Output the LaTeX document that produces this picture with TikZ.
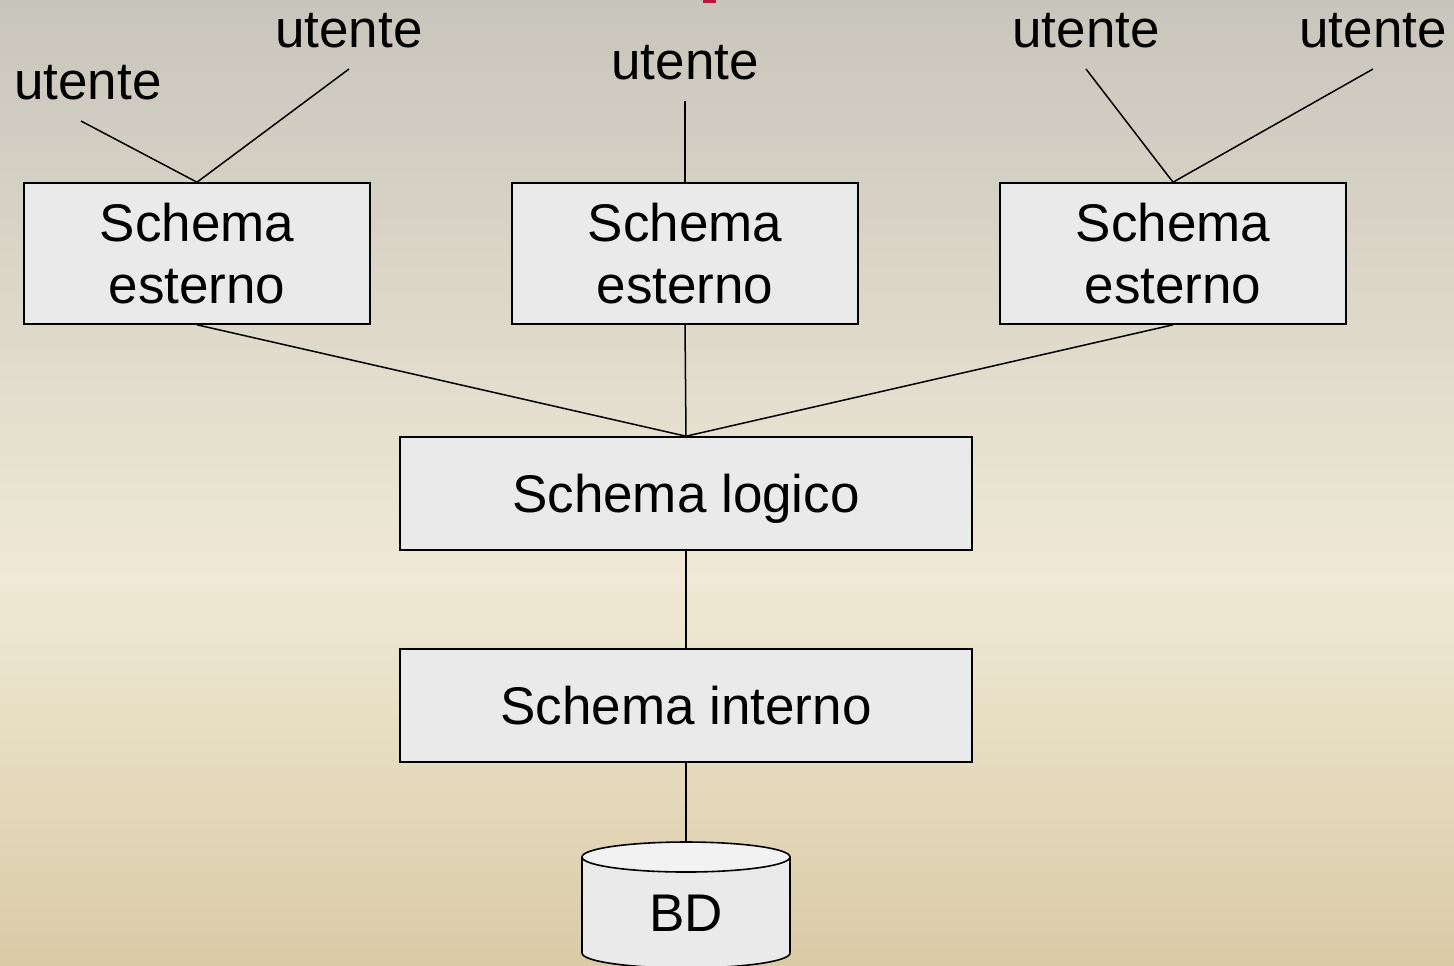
\documentclass[tikz,border=0pt]{standalone}
\usepackage{fontspec}
\setmainfont{Liberation Sans}
\usetikzlibrary{positioning}

\definecolor{bgtop}{HTML}{C8C5BC}
\definecolor{bgmid}{HTML}{EFE9D5}
\definecolor{bgbot}{HTML}{DACBA6}
\definecolor{boxgrey}{HTML}{EAEAEA}
\definecolor{boxlight}{HTML}{F2F2F2}
\definecolor{titlered}{HTML}{C0143C}

\pgfdeclareverticalshading{bgshade}{100bp}{color(0bp)=(bgbot); color(25bp)=(bgbot);
  color(45bp)=(bgmid); color(75bp)=(bgtop); color(100bp)=(bgtop)}

\tikzset{
  schemabox/.style={draw, line width=0.8pt, fill=boxgrey, align=center,
    font=\fontsize{26.5}{31}\selectfont, inner sep=0pt},
  userlabel/.style={font=\fontsize{26.5}{31}\selectfont, inner xsep=0pt,
    inner ysep=10pt, anchor=south},
}

\begin{document}
\begin{tikzpicture}[x=0.5pt,y=-0.5pt,line width=0.75pt]

        \useasboundingbox (0,0) rectangle (1454,965);
        \shade[shading=bgshade] (0,0) rectangle (1454,965);
        \clip (0,0) rectangle (1454,965);
        \fill[titlered] (703,-2) rectangle (716,3);

        \begin{scope}[every node/.style={userlabel}]
          \node (u1) at (88,121)  {utente};
          \node (u2) at (349,69)  {utente};
          \node (u3) at (685,101) {utente};
          \node (u4) at (1086,69) {utente};
          \node (u5) at (1373,69) {utente};
        \end{scope}

        \begin{scope}[every node/.style={schemabox,minimum width=173pt,minimum height=70.5pt}]
          \node (e1) at (197,253.5)  {Schema\\esterno};
          \node (e2) at (685,253.5)  {Schema\\esterno};
          \node (e3) at (1173,253.5) {Schema\\esterno};
        \end{scope}

        \begin{scope}[every node/.style={schemabox,minimum width=286pt,minimum height=56.5pt,text depth=0pt}]
          \node (log) at (686,493.5) {Schema logico};
          \node (int) at (686,705.5) {Schema interno};
        \end{scope}

        % BD
        \draw[line width=0.8pt,fill=boxgrey] (582,857) -- (582,953)
          arc[start angle=180, end angle=0, x radius=104, y radius=15] -- (790,857);
        \draw[line width=0.8pt,fill=boxlight] (686,857) ellipse [x radius=104, y radius=15];
        \coordinate (dbtop) at (686,842);
        \node[font=\fontsize{26.5}{31}\selectfont] (bd) at (686,913) {BD};

        \begin{scope}[every edge/.style={draw}]
          \path ([xshift=-3.5pt]u1.south) edge (e1.north);
          \path (u2.south) edge (e1.north);
          \path (u3.south) edge (e2.north);
          \path (u4.south) edge (e3.north);
          \path (u5.south) edge (e3.north);
          \path (e1.south) edge (log.north);
          \path (e2.south) edge (log.north);
          \path (e3.south) edge (log.north);
          \path (log.south) edge (int.north);
          \path (int.south) edge (dbtop);
        \end{scope}

      \end{tikzpicture}
\end{document}
